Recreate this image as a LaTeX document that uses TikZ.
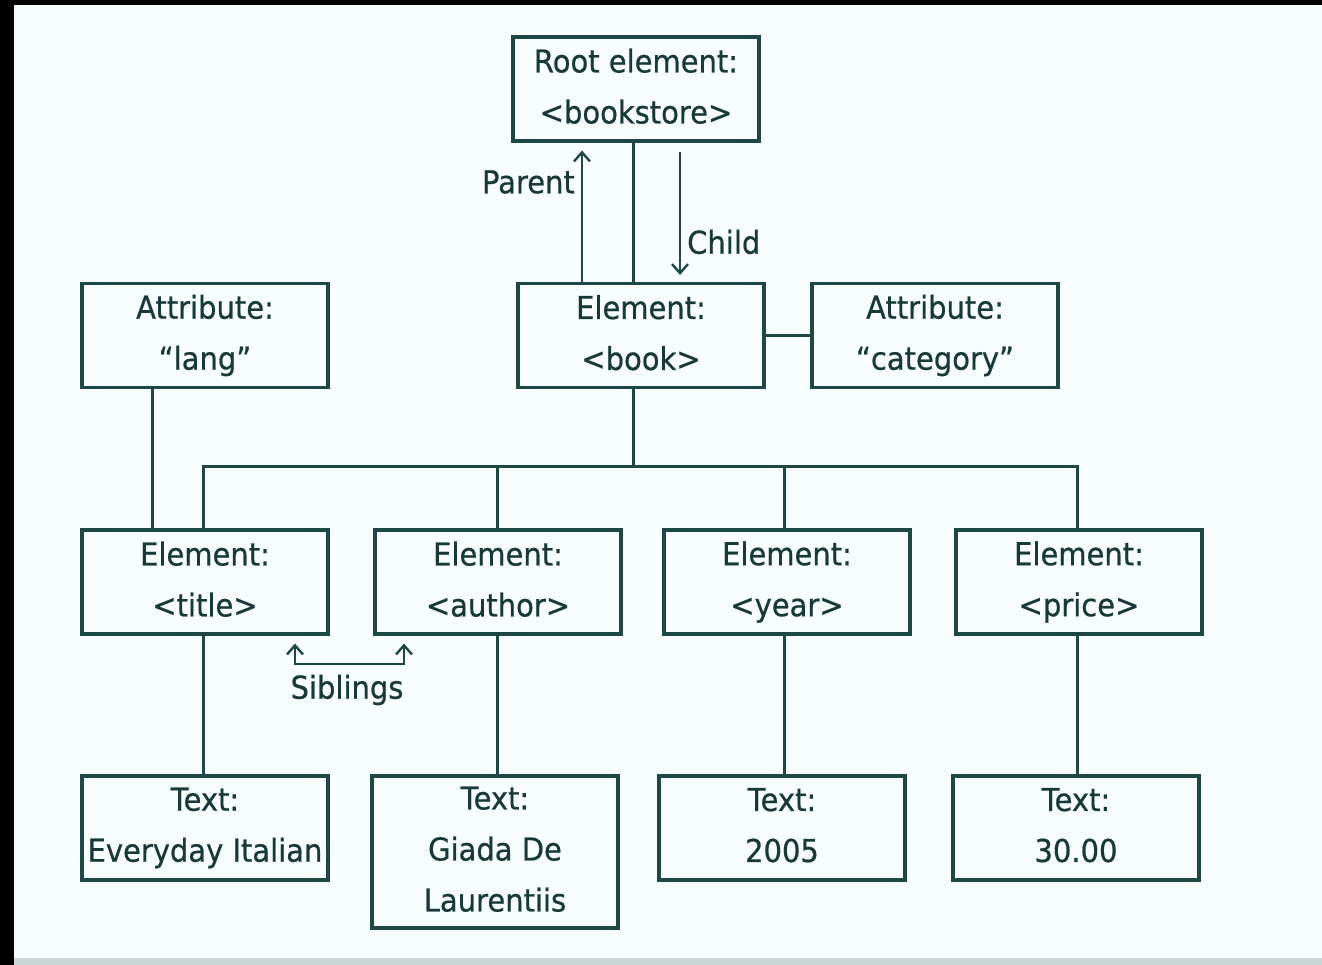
\documentclass[tikz,border=0pt]{standalone}
\usepackage{fontspec}
\setmainfont{DejaVu Sans}[FakeStretch=0.92, FakeBold=0.6]
\usetikzlibrary{arrows.meta}
\begin{document}
\definecolor{bgc}{HTML}{F7FCFC}
\definecolor{linec}{HTML}{1E4845}
\definecolor{textc}{HTML}{173A38}
\definecolor{stripc}{HTML}{CDD6D6}
\newcommand{\boxfont}{\fontsize{31.5}{51}\selectfont}
% fixed top and bottom extents so every box sets its lines at the same height
\newcommand{\topstrut}{\rule{0pt}{33pt}}
\newcommand{\botstrut}{\rule[-6pt]{0pt}{6pt}}
\tikzset{
  box/.style={draw=linec, line width=3.2pt, fill=bgc, minimum width=246pt,
    minimum height=104pt, inner sep=0pt, align=center, text=textc, font=\boxfont,
    execute at begin node=\topstrut, execute at end node=\botstrut},
  tallbox/.style={box, minimum height=152pt},
  link/.style={draw=linec, line width=3pt},
  barb/.tip={Straight Barb[length=9pt,width=16pt]},
  arr/.style={draw=linec, line width=2.4pt, -barb},
  twoarr/.style={draw=linec, line width=2.4pt, barb-barb},
  lbl/.style={text=textc, font=\boxfont, inner sep=0pt}
}
\begin{tikzpicture}[x=1pt, y=-1pt]
  \useasboundingbox (0,0) rectangle (1322,965);
  % page background with dark frame on the left and top
  \fill[bgc] (0,0) rectangle (1322,965);
  \fill[black] (0,0) rectangle (14,965);
  \fill[black] (0,0) rectangle (1322,5);
  \fill[stripc] (14,958) rectangle (1322,965);

  % element tree
  \node[box] (root)   at (636,89)    {Root element:\\<bookstore>};
  \node[box] (book)   at (641,335.5) {Element:\\<book>};
  \node[box] (cat)    at (935,335.5) {Attribute:\\“category”};
  \node[box] (lang)   at (205,335.5) {Attribute:\\“lang”};
  \node[box] (title)  at (205,582)   {Element:\\<title>};
  \node[box] (author) at (498,582)   {Element:\\<author>};
  \node[box] (year)   at (787,582)   {Element:\\<year>};
  \node[box] (price)  at (1079,582)  {Element:\\<price>};
  \node[box]     (ttitle)  at (205,828)  {Text:\\Everyday Italian};
  \node[tallbox] (tauthor) at (495,852)  {Text:\\Giada De\\Laurentiis};
  \node[box]     (tyear)   at (782,828)  {Text:\\2005};
  \node[box]     (tprice)  at (1076,828) {Text:\\30.00};

  % helper columns and the bus line
  \coordinate (rootX) at (633,0);
  \coordinate (parX)  at (582,0);
  \coordinate (chX)   at (680,0);
  \coordinate (langX) at (152,0);
  \coordinate (bus)   at (633,466);
  \coordinate (c1) at (203,0);
  \coordinate (c2) at (497,0);
  \coordinate (c3) at (784,0);
  \coordinate (c4) at (1077,0);
  \coordinate (sibL) at (295,664);
  \coordinate (sibR) at (404,664);

  % root to book
  \draw[link] (root.south -| rootX) -- (book.north -| rootX);
  \draw[arr, shorten >=8pt] (book.north -| parX) -- (root.south -| parX);
  \draw[arr, shorten <=9pt, shorten >=7pt] (root.south -| chX) -- (book.north -| chX);
  \node[lbl, anchor=east] (parent) at (575,182) {Parent};
  \node[lbl, anchor=west] (child)  at (687,242) {Child};

  % book to its attribute
  \draw[link] (book.east) -- (cat.west);
  % lang attribute to title
  \draw[link] (lang.south -| langX) -- (title.north -| langX);

  % book to its children
  \draw[link] (book.south -| rootX) -- (bus);
  \draw[link] (title.north -| c1) |- (bus -| c4) -- (price.north -| c4);
  \draw[link] (bus -| c2) -- (author.north -| c2);
  \draw[link] (bus -| c3) -- (year.north -| c3);

  % children to their text
  \draw[link] (title.south -| c1)  -- (ttitle.north -| c1);
  \draw[link] (author.south -| c2) -- (tauthor.north -| c2);
  \draw[link] (year.south -| c3)   -- (tyear.north -| c3);
  \draw[link] (price.south -| c4)  -- (tprice.north -| c4);

  % siblings bracket
  \draw[twoarr, shorten <=8pt, shorten >=8pt]
    (title.south -| sibL) -- (sibL) -- (sibR) -- (author.south -| sibR);
  \node[lbl] (sib) at (347,690) {Siblings};
\end{tikzpicture}
\end{document}
